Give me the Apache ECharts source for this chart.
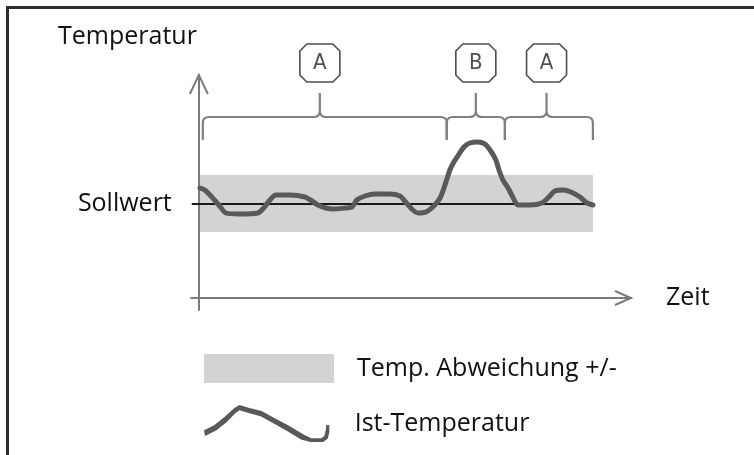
<!DOCTYPE html>
<html>
<head>
<meta charset="utf-8">
<script src="https://cdn.jsdelivr.net/npm/echarts/dist/echarts.min.js"></script>
<style>
html,body{margin:0;padding:0;background:#fff;}
#c{width:754px;height:455px;}
</style>
</head>
<body>
<div id="c"></div>
<script>
// ---- data ----
const timeValues = [0.3, 1.5, 3.3, 5.3, 6.9, 10.4, 15.0, 16.5, 18.1, 19.6, 23.2, 27.0, 28.8, 30.3, 32.3, 34.1, 37.2, 39.0, 40.2, 42.3, 44.8, 48.6, 51.2, 52.4, 54.2, 55.8, 57.8, 59.8, 61.4, 62.4, 63.9, 64.9, 65.9, 67.5, 69.0, 71.0, 72.8, 74.3, 75.6, 76.4, 77.4, 78.7, 79.9, 81.2, 84.3, 87.3, 89.1, 90.6, 92.7, 94.7, 97.0, 98.8, 100.3];
const tempValues = [11.0, 10.8, 10.1, 9.2, 8.5, 8.4, 8.5, 9.0, 9.8, 10.3, 10.3, 10.1, 9.7, 9.3, 9.0, 8.9, 9.0, 9.1, 9.8, 10.2, 10.4, 10.4, 10.2, 9.7, 8.9, 8.5, 8.6, 9.2, 10.0, 11.0, 12.8, 13.6, 14.2, 15.1, 15.5, 15.6, 15.4, 14.7, 13.8, 12.8, 11.8, 11.0, 10.1, 9.3, 9.3, 9.5, 10.1, 10.7, 10.8, 10.6, 10.1, 9.5, 9.3];
const sollwert = 9.45;
const abweichung = 2.85;
const bandStart = 0;
const bandEnd = 100.3;
const segmentLabels = ['A', 'B', 'A'];
const segmentStart = [1.0, 63.1, 77.9];
const segmentEnd = [63.1, 77.9, 100.3];
const segmentPeak = [30.8, 70.5, 88.5];
const seriesNames = ['Temp. Abweichung +/-', 'Ist-Temperatur'];
const axisNames = ['Zeit', 'Temperatur'];
const sollwertLabel = 'Sollwert';

// ---- chart ----
const FONT = '"Open Sans", "Noto Sans", sans-serif';
const X_MIN = -2, X_MAX = 110, Y_MIN = -1.2, Y_MAX = 22.3;
const AXIS_COLOR = '#7b7b7b';
const squiggle = 'path://M0,25.4 L10,20.4 L20,12.4 L30,3.4 L35,0.4 L45,3.4 L57,6.4 L70,13.4 L85,21.4 L98,29.4 L106,33.4 L116,33.4 L119,31 L120.5,25 L121,20 L124,20.5 L124,27 L122.5,33.5 L118,37 L105,37 L96,34.6 L83,26.6 L69,18.6 L56,11.6 L45,8.6 L35,5.6 L31,8.6 L22,17.6 L12,25.6 L1,31 Z';
const bandIcon = 'path://M0,0 L130,0 L130,29 L0,29 Z';
const octagon = 'path://M7,0 L33,0 L40,7 L40,31 L33,38 L7,38 L0,31 L0,7 Z';

const chart = echarts.init(document.getElementById('c'), null, {renderer: 'canvas'});
chart.setOption({
  animation: false,
  backgroundColor: '#ffffff',
  grid: {left: 191, right: 123, top: 75, bottom: 145, containLabel: false, outerBoundsMode: 'none'},
  xAxis: {
    type: 'value', min: X_MIN, max: X_MAX,
    axisLine: {show: true, onZero: true, lineStyle: {color: AXIS_COLOR, width: 2}},
    axisTick: {show: false}, axisLabel: {show: false}, splitLine: {show: false},
    name: axisNames[0], nameLocation: 'end', nameGap: 35,
    nameTextStyle: {fontFamily: FONT, fontSize: 25, color: '#111', padding: [6, 0, 0, 0]}
  },
  yAxis: {
    type: 'value', min: Y_MIN, max: Y_MAX,
    axisLine: {show: true, onZero: true, lineStyle: {color: AXIS_COLOR, width: 2}},
    axisTick: {show: false}, axisLabel: {show: false}, splitLine: {show: false},
    name: axisNames[1], nameLocation: 'end', nameGap: 38,
    nameTextStyle: {fontFamily: FONT, fontSize: 25, color: '#111', align: 'right', verticalAlign: 'middle', padding: [0, 2, 0, 0]}
  },
  legend: [
    {
      show: true, orient: 'vertical', left: 199, top: 349,
      itemWidth: 130, itemHeight: 37, selectedMode: false,
      textStyle: {fontFamily: FONT, fontSize: 25, color: '#111', padding: [0, 0, 0, 18]},
      data: [{name: seriesNames[0], icon: bandIcon, itemStyle: {color: '#d3d3d3', borderWidth: 0}}]
    },
    {
      show: true, orient: 'vertical', left: 199, top: 400,
      itemWidth: 130, itemHeight: 37, selectedMode: false,
      textStyle: {fontFamily: FONT, fontSize: 25, color: '#111', padding: [18, 0, 0, 18]},
      data: [{name: seriesNames[1], icon: squiggle, itemStyle: {color: '#595959', borderWidth: 0}}]
    }
  ],
  graphic: [{
    type: 'rect', silent: true, z: 100,
    shape: {x: 7.5, y: 7.5, width: 800, height: 500},
    style: {fill: 'none', stroke: '#2e2e2e', lineWidth: 3}
  }],
  series: [
    {
      name: seriesNames[0], type: 'custom', z: 0, silent: true,
      itemStyle: {color: '#d3d3d3'},
      data: [[bandStart, bandEnd, sollwert - abweichung, sollwert + abweichung]],
      renderItem: function (params, api) {
        const p1 = api.coord([api.value(0), api.value(3)]);
        const p2 = api.coord([api.value(1), api.value(2)]);
        return {type: 'rect', shape: {x: p1[0], y: p1[1], width: p2[0] - p1[0], height: p2[1] - p1[1]}, style: {fill: '#d3d3d3'}};
      },
      markLine: {
        silent: true, z: 1, symbol: ['none', 'none'],
        lineStyle: {color: '#1a1a1a', width: 2, type: 'solid'},
        label: {show: true, position: 'start', formatter: sollwertLabel, fontFamily: FONT, fontSize: 25, color: '#111', distance: 20},
        data: [[{coord: [-1.8, sollwert]}, {coord: [100.5, sollwert]}]]
      }
    },
    {
      name: seriesNames[1], type: 'line', z: 3, smooth: 0.25, symbol: 'none', silent: true,
      itemStyle: {color: '#595959'},
      lineStyle: {color: '#595959', width: 5, cap: 'round', join: 'round'},
      data: timeValues.map((t, i) => [t, tempValues[i]])
    },
    {
      name: 'brackets', type: 'custom', z: 4, silent: true, clip: false,
      data: segmentStart.map((s, i) => [s, segmentEnd[i], segmentPeak[i]]),
      renderItem: function (params, api) {
        const yh = api.coord([0, 18.1])[1];
        const yb = api.coord([0, 15.8])[1];
        const yt = api.coord([0, 20.5])[1];
        const x0 = api.coord([api.value(0), 0])[0];
        const x1 = api.coord([api.value(1), 0])[0];
        const xp = api.coord([api.value(2), 0])[0];
        const r = 6;
        const d = 'M' + x0 + ',' + yb + ' L' + x0 + ',' + (yh + r) + ' Q' + x0 + ',' + yh + ' ' + (x0 + r) + ',' + yh +
          ' L' + (xp - r) + ',' + yh + ' Q' + xp + ',' + yh + ' ' + xp + ',' + (yh - r) + ' L' + xp + ',' + yt +
          ' M' + xp + ',' + (yh - r) + ' Q' + xp + ',' + yh + ' ' + (xp + r) + ',' + yh +
          ' L' + (x1 - r) + ',' + yh + ' Q' + x1 + ',' + yh + ' ' + x1 + ',' + (yh + r) + ' L' + x1 + ',' + yb;
        return {type: 'path', shape: {pathData: d}, style: {fill: 'none', stroke: '#808080', lineWidth: 2.2}};
      }
    },
    {
      name: 'arrows', type: 'custom', z: 4, silent: true, clip: false,
      data: [[0, Y_MAX, 0], [X_MAX, 0, 1]],
      renderItem: function (params, api) {
        const p = api.coord([api.value(0), api.value(1)]);
        const pts = api.value(2) === 0
          ? [[p[0] - 9, p[1] + 19], [p[0], p[1]], [p[0] + 9, p[1] + 19]]
          : [[p[0] - 16, p[1] - 7], [p[0], p[1]], [p[0] - 16, p[1] + 7]];
        return {type: 'polyline', shape: {points: pts}, style: {fill: 'none', stroke: AXIS_COLOR, lineWidth: 2}};
      }
    },
    {
      name: 'labels', type: 'scatter', z: 5, silent: true, clip: false,
      symbol: octagon, symbolSize: [40, 38],
      itemStyle: {color: '#ffffff', borderColor: '#222', borderWidth: 1.6},
      label: {show: true, position: 'inside', formatter: p => p.value[2], fontFamily: '"Liberation Sans Narrow", "DejaVu Sans Condensed", sans-serif', fontSize: 22, color: '#222'},
      data: segmentPeak.map((x, i) => [x, 23.5, segmentLabels[i]])
    }
  ]
});
</script>
</body>
</html>
